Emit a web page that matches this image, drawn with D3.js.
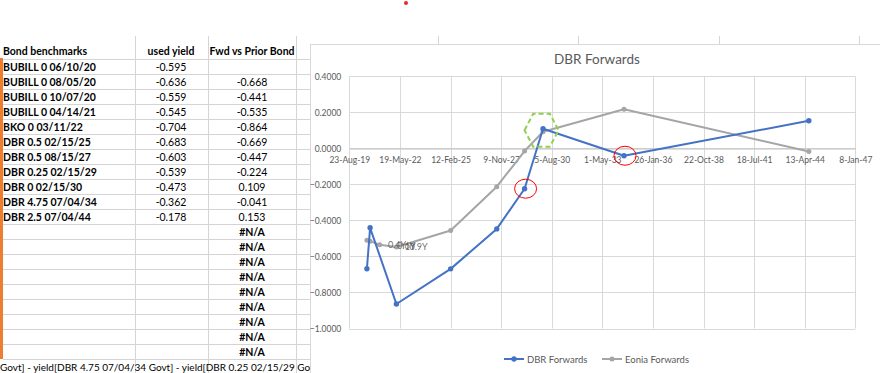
<!DOCTYPE html>
<html><head><meta charset="utf-8">
<script src="https://cdn.jsdelivr.net/npm/d3@7/dist/d3.min.js"></script>
<style>
html,body{margin:0;padding:0;background:#fff;}
svg{display:block;}
text{font-family:Lato,"Open Sans",sans-serif;}
</style></head>
<body>
<svg id="c" width="880" height="373"></svg>
<script>
// ---------- data ----------
const bonds = ["BUBILL 0 06/10/20","BUBILL 0 08/05/20","BUBILL 0 10/07/20","BUBILL 0 04/14/21","BKO 0 03/11/22",
  "DBR 0.5 02/15/25","DBR 0.5 08/15/27","DBR 0.25 02/15/29","DBR 0 02/15/30","DBR 4.75 07/04/34","DBR 2.5 07/04/44"];
const usedYield = ["-0.595","-0.636","-0.559","-0.545","-0.704","-0.683","-0.603","-0.539","-0.473","-0.362","-0.178"];
const fwdPrior = ["","-0.668","-0.441","-0.535","-0.864","-0.669","-0.447","-0.224","0.109","-0.041","0.153"];
const naCount = 9;
const headers = ["Bond benchmarks","used yield","Fwd vs Prior Bond"];
const footerText = "Govt] - yield[DBR 4.75 07/04/34 Govt] - yield[DBR 0.25 02/15/29 Govt] - yield[DBR 0 02/15/30 Govt]";

const chartTitle = "DBR Forwards";
const seriesNames = ["DBR Forwards","Eonia Forwards"];
const dbrDates = ["08/05/20","10/07/20","03/11/22","02/15/25","08/15/27","02/15/29","02/15/30","07/04/34","07/04/44"];
const dbrValues = [-0.668,-0.441,-0.864,-0.669,-0.447,-0.224,0.109,-0.041,0.153];
const eoniaDates = ["08/05/20","10/07/20","04/14/21","03/11/22","02/15/25","08/15/27","02/15/29","02/15/30","07/04/34","07/04/44"];
const eoniaValues = [-0.51,-0.515,-0.535,-0.548,-0.456,-0.213,-0.015,0.092,0.217,-0.017];
const eoniaLabels = ["0.4Y","0.6Y","1Y","0.9Y"];
const xTickLabels = ["23-Aug-19","19-May-22","12-Feb-25","9-Nov-27","5-Aug-30","1-May-33","26-Jan-36","22-Oct-38","18-Jul-41","13-Apr-44","8-Jan-47"];
const yTicks = [0.4,0.2,0,-0.2,-0.4,-0.6,-0.8,-1.0];

// ---------- setup ----------
const svg = d3.select("#c");
const grid = "#d4d4d4";
const pd = d3.timeParse("%m/%d/%y");
const pt = d3.timeParse("%d-%b-%y");

// ---------- spreadsheet ----------
const sheet = svg.append("g");
const colX = [135,208,296,438,578,719,859];
const rowTop = 59, rowH = 15, nRows = bonds.length + naCount;
colX.forEach(x=>{
  sheet.append("line").attr("x1",x+0.5).attr("x2",x+0.5).attr("y1",36).attr("y2",x<310?373:44)
    .attr("stroke",grid).attr("stroke-width",1);
});
for(let i=0;i<=nRows;i++){
  const y = rowTop + i*rowH + 0.5;
  sheet.append("line").attr("x1",3).attr("x2",310).attr("y1",y).attr("y2",y).attr("stroke",grid);
}
sheet.append("rect").attr("x",0).attr("y",rowTop-1).attr("width",3).attr("height",nRows*rowH+1).attr("fill","#ed7d31");
sheet.append("text").attr("x",3).attr("y",55).attr("font-size",10.5).attr("font-weight","bold").text(headers[0]);
sheet.append("text").attr("x",171).attr("y",55).attr("text-anchor","middle").attr("font-size",10.5).attr("font-weight","bold").text(headers[1]);
sheet.append("text").attr("x",252).attr("y",55).attr("text-anchor","middle").attr("font-size",10.5).attr("font-weight","bold").text(headers[2]);
bonds.forEach((b,i)=>{
  const y = rowTop + i*rowH + 11.5;
  sheet.append("text").attr("x",3).attr("y",y).attr("font-size",10.5).attr("font-weight","bold").text(b);
  sheet.append("text").attr("x",171).attr("y",y).attr("text-anchor","middle").attr("font-size",10.5).text(usedYield[i]);
  sheet.append("text").attr("x",252).attr("y",y).attr("text-anchor","middle").attr("font-size",10.5).text(fwdPrior[i]);
});
for(let j=0;j<naCount;j++){
  const y = rowTop + (bonds.length+j)*rowH + 11.5;
  sheet.append("text").attr("x",252).attr("y",y).attr("text-anchor","middle").attr("font-size",10.5).attr("font-weight","bold").text("#N/A");
}
sheet.append("text").attr("x",0).attr("y",371).attr("font-size",10).text(footerText);

// red dot
svg.append("circle").attr("cx",406).attr("cy",3).attr("r",2).attr("fill","#e32b2b");

// ---------- chart ----------
const ch = svg.append("g");
ch.append("rect").attr("x",310.5).attr("y",44.5).attr("width",600).attr("height",360)
  .attr("fill","#fff").attr("stroke","#d9d9d9");

const x = d3.scaleTime().domain([pt(xTickLabels[0]), pt(xTickLabels[xTickLabels.length-1])]).range([349.3,855.3]);
const y = d3.scaleLinear().domain([-1,0.4]).range([328.5,76.3]);

ch.append("g").selectAll("line").data(yTicks).join("line")
  .attr("x1",x.range()[0]).attr("x2",x.range()[1])
  .attr("y1",d=>Math.round(y(d))+0.5).attr("y2",d=>Math.round(y(d))+0.5)
  .attr("stroke","#d9d9d9").attr("stroke-width",1);
ch.append("g").selectAll("line").data(xTickLabels).join("line")
  .attr("x1",d=>Math.round(x(pt(d)))+0.5).attr("x2",d=>Math.round(x(pt(d)))+0.5)
  .attr("y1",y(0.4)).attr("y2",y(-1))
  .attr("stroke","#d9d9d9").attr("stroke-width",1);

const ya = ch.append("g").attr("transform",`translate(${x.range()[0]},0)`)
  .call(d3.axisLeft(y).tickValues(yTicks).tickFormat(d3.format(".4f")).tickSize(0).tickPadding(8));
ya.select(".domain").remove();
ya.selectAll("text").attr("fill","#595959").attr("font-size",8.5).attr("font-family","Lato,sans-serif");

const xa = ch.append("g").attr("transform",`translate(0,${Math.round(y(0))+0.5})`)
  .call(d3.axisBottom(x).tickValues(xTickLabels.map(pt)).tickFormat((d,i)=>xTickLabels[i]).tickSize(0).tickPadding(8));
xa.select(".domain").attr("stroke","#bfbfbf");
xa.selectAll("text").attr("fill","#595959").attr("font-size",8.5).attr("font-family","Lato,sans-serif");

ch.append("text").attr("x",597).attr("y",64).attr("text-anchor","middle").attr("font-size",13.5)
  .attr("fill","#595959").text(chartTitle);

const dbr = dbrDates.map((d,i)=>({d:pd(d),v:dbrValues[i]}));
const eon = eoniaDates.map((d,i)=>({d:pd(d),v:eoniaValues[i]}));
const line = d3.line().x(d=>x(d.d)).y(d=>y(d.v));
const blue = "#4472c4", gray = "#a5a5a5";

ch.append("path").datum(eon).attr("d",line).attr("fill","none").attr("stroke",gray).attr("stroke-width",2).attr("stroke-linejoin","round");
ch.append("g").selectAll("circle").data(eon).join("circle").attr("cx",d=>x(d.d)).attr("cy",d=>y(d.v)).attr("r",2.5).attr("fill",gray);
ch.append("path").datum(dbr).attr("d",line).attr("fill","none").attr("stroke",blue).attr("stroke-width",2).attr("stroke-linejoin","round");
ch.append("g").selectAll("circle").data(dbr).join("circle").attr("cx",d=>x(d.d)).attr("cy",d=>y(d.v)).attr("r",2.7).attr("fill",blue);

// overlapping data labels (Eonia), as in the reference
const lblOff = [[21,8],[27,8],[25,5],[13,3]];
eoniaLabels.forEach((t,i)=>{
  const p = eon[i];
  ch.append("text").attr("x",x(p.d)+lblOff[i][0]).attr("y",y(p.v)+lblOff[i][1]).attr("font-size",9)
    .attr("fill","#595959").attr("fill-opacity",0.9).text(t);
});

// annotations
const ann = ch.append("g");
[5,7].forEach(i=>{
  ann.append("ellipse").attr("cx",x(dbr[i].d)+1).attr("cy",y(dbr[i].v)).attr("rx",11).attr("ry",9.5)
    .attr("fill","none").attr("stroke","#ff0000").attr("stroke-width",1);
});
{
  const cx = x(dbr[6].d)-1.5, cy = y(dbr[6].v)+1.5, w=17, h=16.5, k=8.7;
  const pts = [[cx-w,cy],[cx-w+k,cy-h],[cx+w-k,cy-h],[cx+w,cy],[cx+w-k,cy+h],[cx-w+k,cy+h]];
  ann.append("path").attr("d","M"+pts.map(p=>p.join(",")).join("L")+"Z")
    .attr("fill","none").attr("stroke","#92d050").attr("stroke-width",2).attr("stroke-dasharray","5,3");
}

// legend
const lg = ch.append("g").attr("transform","translate(0,359)");
const legItems = [{x:504,c:blue,r:2.7},{x:602,c:gray,r:2.5}];
legItems.forEach((l,i)=>{
  lg.append("line").attr("x1",l.x).attr("x2",l.x+20).attr("y1",0).attr("y2",0).attr("stroke",l.c).attr("stroke-width",2);
  lg.append("circle").attr("cx",l.x+10).attr("cy",0).attr("r",l.r).attr("fill",l.c);
  lg.append("text").attr("x",l.x+23).attr("y",3.5).attr("font-size",9.5).attr("fill","#595959").text(seriesNames[i]);
});
</script>
</body></html>
